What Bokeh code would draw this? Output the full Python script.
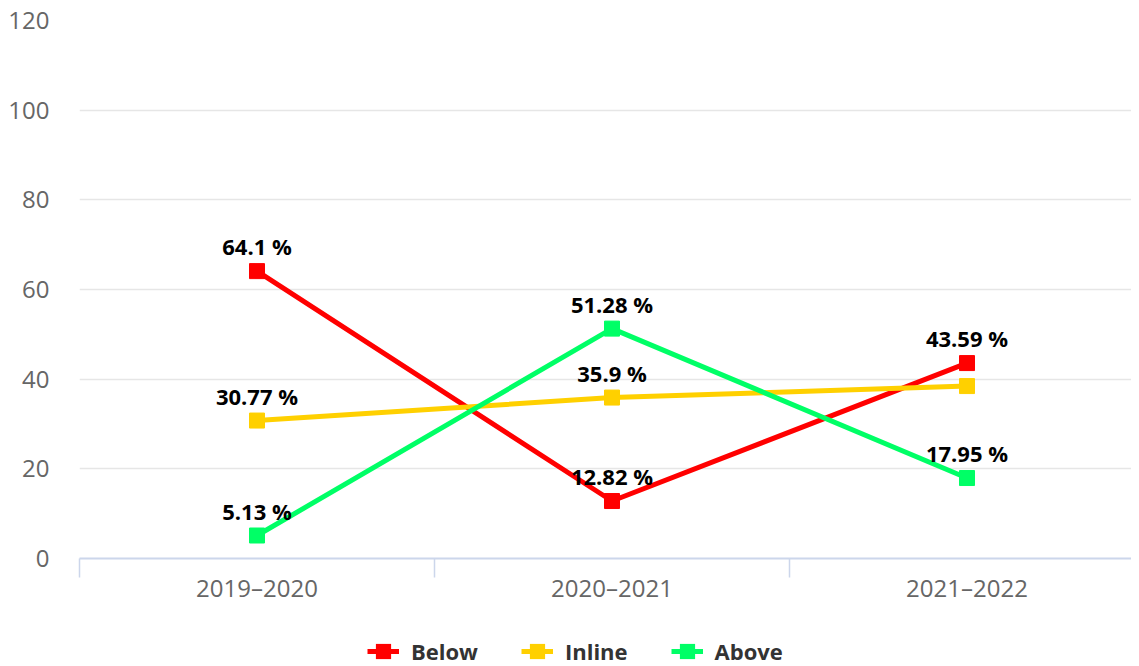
from bokeh.plotting import figure
from bokeh.layouts import column
from bokeh.models import (Range1d, FixedTicker, Legend, LegendItem, ColumnDataSource)
from bokeh.embed import file_html
from bokeh.resources import INLINE
from bokeh.core.properties import value

categories = ["2019–2020", "2020–2021", "2021–2022"]
below = [64.1, 12.82, 43.59]
inline = [30.77, 35.9, 38.46]
above = [5.13, 51.28, 17.95]
# which data labels are shown (Highcharts hid the overlapping one)
inline_label_shown = [True, True, False]

series = [
    ("Below", below, "#ff0000", [True, True, True]),
    ("Inline", inline, "#ffd000", inline_label_shown),
    ("Above", above, "#00ff66", [True, True, True]),
]

xs = list(range(len(categories)))

FONT = "Open Sans"
LEFT = 79
W = 1131

p = figure(width=W, height=606, output_backend="svg", toolbar_location=None,
           x_range=Range1d(-0.5, -0.5 + (W - LEFT) / 355), y_range=Range1d(0, 120),
           min_border_left=LEFT, min_border_right=0, min_border_top=20, min_border_bottom=48)
p.outline_line_color = None
p.background_fill_color = "white"
p.border_fill_color = "white"

# y axis
p.yaxis.ticker = FixedTicker(ticks=[0, 20, 40, 60, 80, 100, 120])
p.yaxis.axis_line_color = None
p.yaxis.major_tick_line_color = None
p.yaxis.major_tick_out = 0
p.yaxis.minor_tick_line_color = None
p.yaxis.major_label_standoff = 30
p.yaxis.major_label_text_font = FONT
p.yaxis.major_label_text_font_size = "24px"
p.yaxis.major_label_text_color = "#666666"
p.ygrid.ticker = FixedTicker(ticks=[20, 40, 60, 80, 100, 120])
p.ygrid.grid_line_color = "#e6e6e6"
p.ygrid.grid_line_width = 1.5
p.xgrid.grid_line_color = None

# x axis
p.xaxis.ticker = FixedTicker(ticks=xs, minor_ticks=[-0.5, 0.5, 1.5, 2.5])
p.xaxis.major_label_overrides = {i: c for i, c in enumerate(categories)}
p.xaxis.axis_line_color = "#ccd6eb"
p.xaxis.axis_line_width = 2
p.xaxis.major_tick_line_color = None
p.xaxis.major_tick_out = 12
p.xaxis.major_tick_in = 0
p.xaxis.minor_tick_line_color = "#ccd6eb"
p.xaxis.minor_tick_line_width = 1.5
p.xaxis.minor_tick_out = 19
p.xaxis.minor_tick_in = 0
p.xaxis.major_label_standoff = -7
p.xaxis.major_label_text_font = FONT
p.xaxis.major_label_text_font_size = "24px"
p.xaxis.major_label_text_color = "#666666"

# legend strip below the chart (same borders so the frames line up)
lg = figure(width=W, height=60, output_backend="svg", toolbar_location=None,
            x_range=Range1d(0, 1), y_range=Range1d(-2, -1),
            x_axis_type=None, y_axis_type=None,
            min_border_left=LEFT, min_border_right=0, min_border_top=0, min_border_bottom=0)
lg.outline_line_color = None
lg.xgrid.grid_line_color = None
lg.ygrid.grid_line_color = None
lg.background_fill_color = "white"
lg.border_fill_color = "white"

items = []
label_sets = []
for name, vals, color, shown in series:
    src = ColumnDataSource(dict(x=xs, y=vals))
    p.line("x", "y", source=src, line_color=color, line_width=5)
    p.scatter("x", "y", source=src, marker="square", size=15,
              fill_color=color, line_color=color)
    # legend proxies: same data, but outside the strip's visible range
    l2 = lg.line("x", "y", source=src, line_color=color, line_width=5)
    m2 = lg.scatter("x", "y", source=src, marker="square", size=15,
                    fill_color=color, line_color=color, line_width=8,
                    line_join="miter")
    items.append(LegendItem(label=name, renderers=[l2, m2]))
    lx = [x for x, s in zip(xs, shown) if s]
    ly = [v for v, s in zip(vals, shown) if s]
    lt = [f"{v:g} %" for v, s in zip(vals, shown) if s]
    label_sets.append((lx, ly, lt))

for lx, ly, lt in label_sets:
    p.text(x=lx, y=ly, text=lt, text_align="center", text_baseline="alphabetic",
           y_offset=-25, text_font=value(FONT), text_font_size="22px",
           text_font_style="bold", text_color="black")

legend = Legend(items=items, orientation="horizontal", location=(288, 0),
                border_line_color=None, background_fill_alpha=0,
                padding=0, margin=0, spacing=43, label_standoff=12,
                glyph_width=32, glyph_height=18, label_height=18,
                label_text_font=FONT, label_text_font_size="22px",
                label_text_font_style="bold", label_text_color="#333333")
lg.add_layout(legend, "center")

open("out.html", "w").write(file_html(column(p, lg), INLINE))
